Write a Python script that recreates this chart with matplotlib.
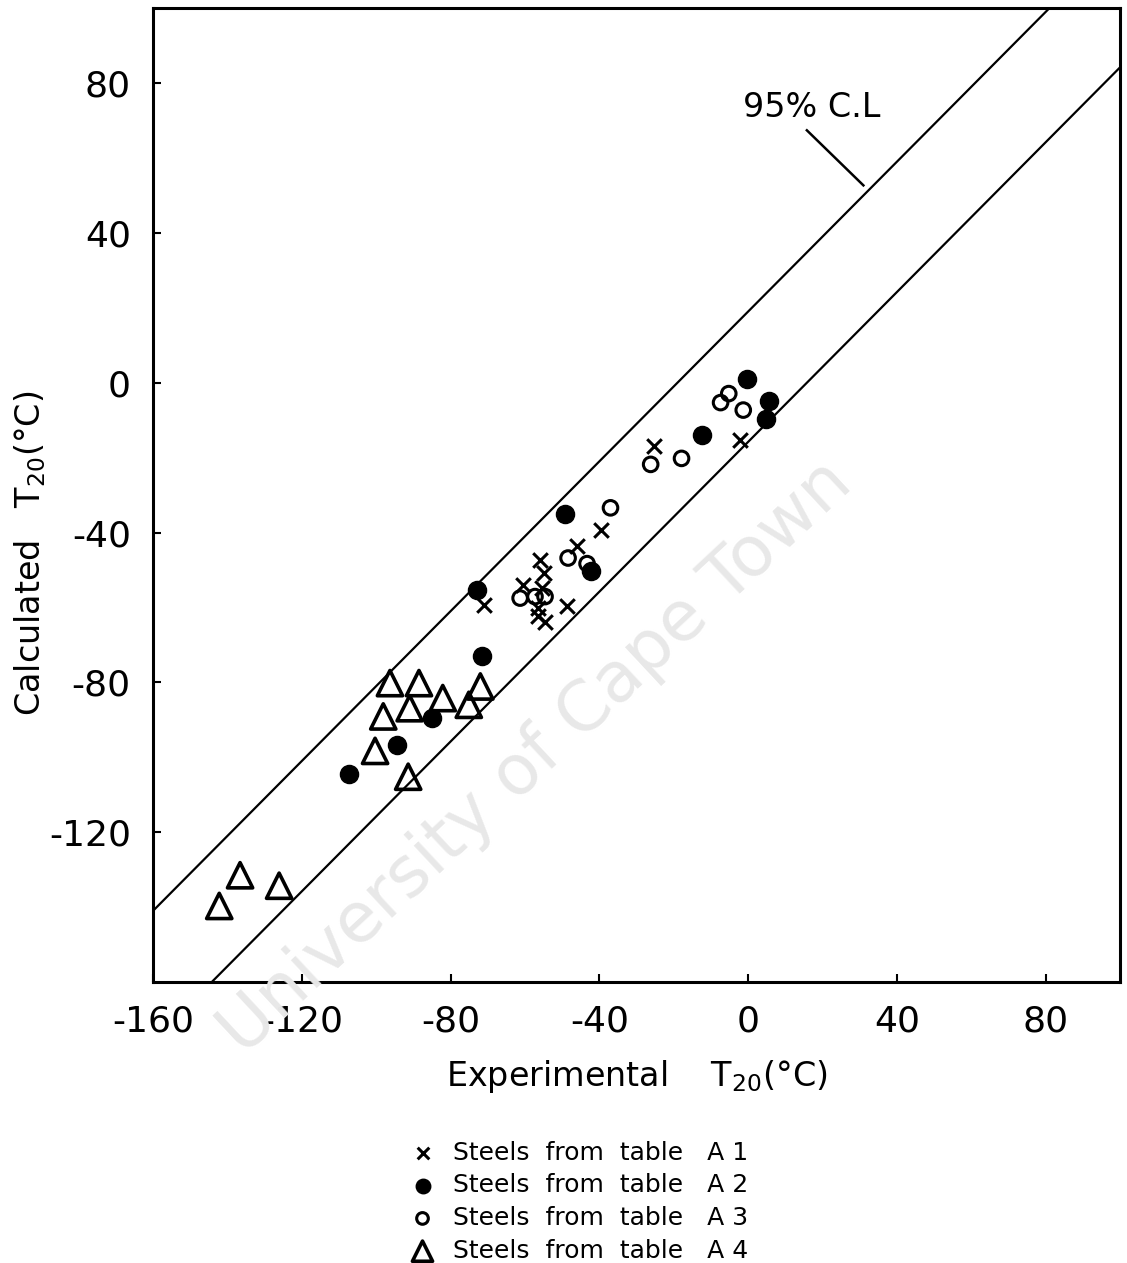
import matplotlib
matplotlib.use("Agg")
import matplotlib.pyplot as plt
import numpy as np

plt.rcParams['font.family'] = ['DejaVu Sans']
plt.rcParams['axes.unicode_minus'] = False

# experimental vs calculated T20 (deg C), grouped by source table
a1_exp = [-71.1, -56.0, -54.8, -60.4, -55.5, -56.4, -56.4, -54.5, -48.8, -45.9, -39.5, -25.4, -2.1]
a1_calc = [-59.3, -47.2, -50.8, -53.9, -54.8, -60.2, -62.4, -63.9, -59.5, -43.5, -39.2, -16.9, -15.2]

a2_exp = [-49.3, -72.9, -71.6, -42.3, -12.3, 4.8, 5.7, -0.3, -85.1, -94.3, -107.4]
a2_calc = [-35.0, -55.3, -72.9, -50.2, -13.9, -9.8, -4.9, 1.0, -89.6, -96.7, -104.5]

a3_exp = [-61.3, -57.3, -54.6, -48.4, -37.0, -43.3, -26.2, -17.9, -1.3, -5.2, -7.4]
a3_calc = [-57.5, -57.1, -57.1, -46.8, -33.4, -48.3, -21.8, -20.2, -7.3, -2.9, -5.3]

a4_exp = [-96.3, -88.5, -82.1, -72.0, -75.1, -91.0, -98.1, -100.3, -91.4, -136.6, -126.1, -142.2]
a4_calc = [-80.2, -80.2, -84.2, -81.1, -86.0, -86.9, -89.1, -98.3, -105.2, -131.5, -134.3, -139.7]

# 95% confidence band limits: calc = exp + offset
band_upper = 19.0
band_lower = -15.8

fig = plt.figure(figsize=(11.27, 12.63), dpi=100)
ax = fig.add_axes([0.1358, 0.2225, 0.858, 0.771])

# faint watermark
fig.text(0.475, 0.40, "University of Cape Town", fontsize=50, color='#e8e8e8',
         rotation=43, ha='center', va='center', zorder=0)

xx = np.array([-200, 200])
ax.plot(xx, xx + band_upper, color='black', lw=1.6)
ax.plot(xx, xx + band_lower, color='black', lw=1.6)

ax.scatter(a1_exp, a1_calc, marker='x', s=110, color='black', linewidths=2.2,
           label='Steels  from  table   A 1', zorder=3)
ax.scatter(a2_exp, a2_calc, marker='o', s=170, color='black',
           label='Steels  from  table   A 2', zorder=3)
ax.scatter(a3_exp, a3_calc, marker='o', s=110, facecolors='none', edgecolors='black',
           linewidths=2.2, label='Steels  from  table   A 3', zorder=3)
ax.scatter(a4_exp, a4_calc, marker='^', s=330, facecolors='none', edgecolors='black',
           linewidths=2.6, label='Steels  from  table   A 4', zorder=3)

# confidence label with leader line
ax.text(17, 73.5, "95% C.L", fontsize=24, ha='center', va='center')
ax.plot([15.8, 31.0], [67.4, 52.7], color='black', lw=1.8)

ax.set_xlim(-160, 100)
ax.set_ylim(-160, 100)
ax.set_xticks([-160, -120, -80, -40, 0, 40, 80])
ax.set_yticks([-120, -80, -40, 0, 40, 80])
ax.tick_params(direction='in', length=6, width=1.5, labelsize=26, pad=16)
for s in ax.spines.values():
    s.set_linewidth(2.2)

ax.set_xlabel("Experimental    T$_{20}$(°C)", fontsize=24, labelpad=14)
ax.set_ylabel("Calculated   T$_{20}$(°C)", fontsize=24, va='center')
ax.yaxis.set_label_coords(-0.127, 0.44)

fig.legend(loc='upper left', bbox_to_anchor=(395 / 1127, 1 - 1128 / 1263),
           frameon=False, fontsize=18, labelspacing=0.35, handletextpad=0.6,
           handlelength=1.2, borderpad=0, scatterpoints=1, markerscale=0.8)

fig.savefig("out.png", dpi=100)
